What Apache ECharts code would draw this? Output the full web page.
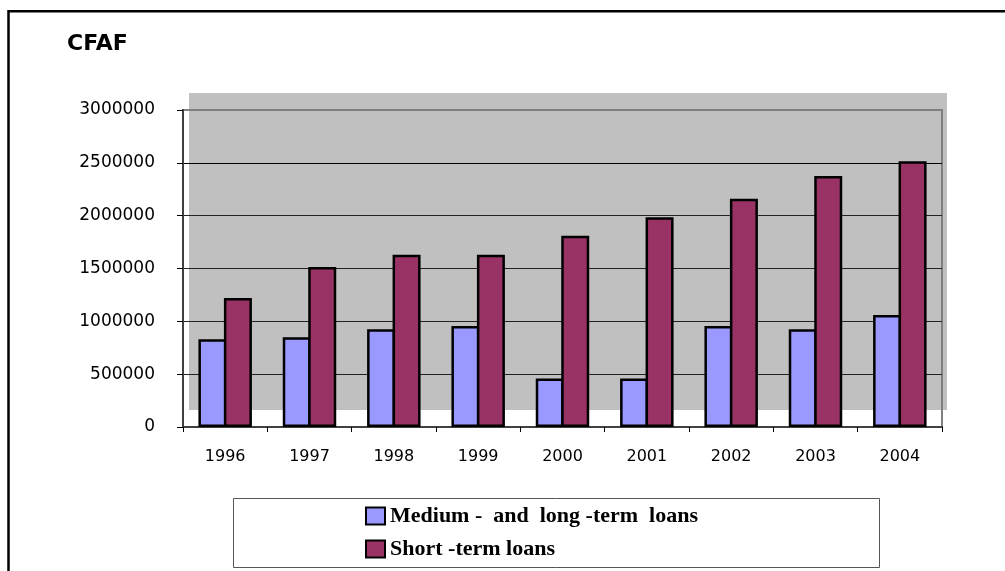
<!DOCTYPE html>
<html>
<head>
<meta charset="utf-8">
<script src="https://cdn.jsdelivr.net/npm/echarts@6/dist/echarts.min.js"></script>
<style>
html,body{margin:0;padding:0;background:#fff;}
#chart{width:1005px;height:571px;}
</style>
</head>
<body>
<div id="chart"></div>
<script>
var years = ['1996','1997','1998','1999','2000','2001','2002','2003','2004'];
var mediumLong = [830000, 850000, 925000, 955000, 460000, 460000, 955000, 925000, 1060000];
var shortTerm = [1220000, 1515000, 1630000, 1630000, 1810000, 1985000, 2160000, 2375000, 2515000];
var seriesNames = ['Medium -  and  long -term  loans', 'Short -term loans'];
var unitLabel = 'CFAF';

var chart = echarts.init(document.getElementById('chart'), null, {renderer: 'canvas'});
var option = {
  animation: false,
  backgroundColor: '#ffffff',
  title: {
    text: unitLabel,
    left: 62, top: 28,
    textStyle: {fontFamily: 'DejaVu Sans', fontWeight: 'bold', fontSize: 22, color: '#000'}
  },
  graphic: [
    {type: 'rect', z: -10, silent: true,
     shape: {x: 8.5, y: 11.3, width: 1100, height: 700},
     style: {fill: 'none', stroke: '#000', lineWidth: 2.5}},
    {type: 'rect', z: -10, silent: true,
     shape: {x: 189, y: 93, width: 758, height: 317},
     style: {fill: '#c0c0c0', stroke: 'none'}},
    {type: 'rect', z: -10, silent: true,
     shape: {x: 233.5, y: 498.5, width: 646, height: 69},
     style: {fill: 'none', stroke: '#555', lineWidth: 1}}
  ],
  legend: {
    orient: 'vertical',
    left: 365, top: 505,
    itemWidth: 19, itemHeight: 17,
    itemGap: 11,
    padding: 0,
    icon: 'rect',
    selectedMode: false,
    textStyle: {fontFamily: 'Liberation Serif', fontWeight: 'bold', fontSize: 22, color: '#000', lineHeight: 22},
    data: seriesNames
  },
  grid: {
    left: 183, top: 110, right: 63, bottom: 144,
    show: true, backgroundColor: 'transparent',
    borderColor: '#808080', borderWidth: 2
  },
  xAxis: {
    type: 'category',
    data: years,
    boundaryGap: true,
    axisLine: {show: true, lineStyle: {color: '#404040', width: 2}},
    axisTick: {show: true, length: 5, lineStyle: {color: '#000', width: 1}},
    axisLabel: {fontFamily: 'DejaVu Sans', fontSize: 16, color: '#000', margin: 22},
    splitLine: {show: false}
  },
  yAxis: {
    type: 'value',
    min: 0, max: 3000000, interval: 500000,
    axisLine: {show: true, lineStyle: {color: '#404040', width: 2}},
    axisTick: {show: true, length: 6, lineStyle: {color: '#000', width: 1}},
    axisLabel: {fontFamily: 'DejaVu Sans', fontSize: 17, color: '#000', margin: 28,
                formatter: function (v) { return String(v); }},
    splitLine: {show: true, lineStyle: {color: ['#000','#222','#222','#222','#222','#000','#808080'], width: 1.2}}
  },
  series: [
    {
      name: seriesNames[0], type: 'bar', data: mediumLong,
      barWidth: 28, barGap: '-9%',
      itemStyle: {color: '#9999ff', borderColor: '#000', borderWidth: 2.5}
    },
    {
      name: seriesNames[1], type: 'bar', data: shortTerm,
      barWidth: 28, barGap: '-9%',
      itemStyle: {color: '#993366', borderColor: '#000', borderWidth: 2.5}
    }
  ]
};
chart.setOption(option);
</script>
</body>
</html>
